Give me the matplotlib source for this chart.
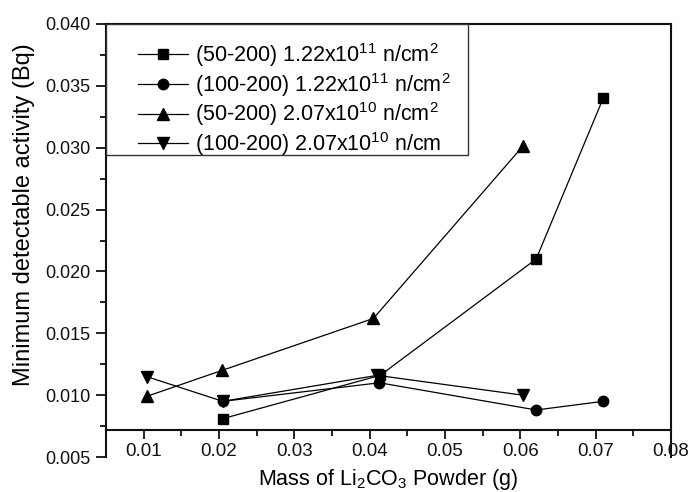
import matplotlib
matplotlib.use("Agg")
import matplotlib.pyplot as plt
from matplotlib.patches import Rectangle
from matplotlib.ticker import MultipleLocator, FormatStrFormatter

plt.rcParams['font.family'] = ['Liberation Sans', 'DejaVu Sans']
plt.rcParams['mathtext.fontset'] = 'custom'
plt.rcParams['mathtext.rm'] = 'Liberation Sans'
plt.rcParams['mathtext.it'] = 'Liberation Sans'

# Mass of Li2CO3 powder (g) and minimum detectable activity (Bq)
x_sq = [0.0205, 0.0414, 0.0621, 0.0710]
y_sq = [0.0081, 0.0116, 0.0210, 0.0340]
x_ci = [0.0205, 0.0413, 0.0621, 0.0710]
y_ci = [0.0095, 0.0110, 0.0088, 0.0095]
x_up = [0.0104, 0.0204, 0.0405, 0.0603]
y_up = [0.0099, 0.0120, 0.0162, 0.0301]
x_dn = [0.0104, 0.0205, 0.0410, 0.0603]
y_dn = [0.0115, 0.0095, 0.0116, 0.0100]

labels = [
    r'(50-200) 1.22x10$^{\mathregular{11}}$ n/cm$^{\mathregular{2}}$',
    r'(100-200) 1.22x10$^{\mathregular{11}}$ n/cm$^{\mathregular{2}}$',
    r'(50-200) 2.07x10$^{\mathregular{10}}$ n/cm$^{\mathregular{2}}$',
    r'(100-200) 2.07x10$^{\mathregular{10}}$ n/cm',
]

fig = plt.figure(figsize=(6.9, 4.92), dpi=100)
ax = fig.add_axes([106/690, 1 - 457/492, (671 - 106)/690, (457 - 24)/492])

kw = dict(color='black', lw=0.9, markeredgecolor='black', markerfacecolor='black')
ax.plot(x_sq, y_sq, marker='s', markersize=6.5, label=labels[0], **kw)
ax.plot(x_ci, y_ci, marker='o', markersize=7.5, label=labels[1], **kw)
ax.plot(x_up, y_up, marker='^', markersize=8, label=labels[2], **kw)
ax.plot(x_dn, y_dn, marker='v', markersize=8, label=labels[3], **kw)

ax.set_xlim(0.005, 0.08)
ax.set_ylim(0.005, 0.040)

# x axis crosses the y axis above its lower limit
ax.spines['bottom'].set_position(('data', 0.0072))
for s in ax.spines.values():
    s.set_linewidth(1.5)
    s.set_color('#111111')

ax.xaxis.set_major_locator(MultipleLocator(0.01))
ax.xaxis.set_minor_locator(MultipleLocator(0.005))
ax.yaxis.set_major_locator(MultipleLocator(0.005))
ax.yaxis.set_minor_locator(MultipleLocator(0.0025))
ax.xaxis.set_major_formatter(FormatStrFormatter('%.2f'))
ax.yaxis.set_major_formatter(FormatStrFormatter('%.3f'))
ax.set_xticks([0.01, 0.02, 0.03, 0.04, 0.05, 0.06, 0.07, 0.08])

ax.tick_params(axis='y', which='major', direction='out', length=7.5, width=1.3,
               labelsize=13, pad=3.5, colors='#111111')
ax.tick_params(axis='y', which='minor', direction='out', length=4, width=1.3, colors='#111111')
ax.tick_params(axis='x', which='major', direction='out', length=6.5, width=1.3,
               labelsize=13.5, pad=3, colors='#111111')
ax.tick_params(axis='x', which='minor', direction='out', length=4.5, width=1.3, colors='#111111')
ax.tick_params(top=False, right=False)

ax.set_xlabel(r'Mass of Li$_{\mathregular{2}}$CO$_{\mathregular{3}}$ Powder (g)', fontsize=15.5, labelpad=5)
ax.set_ylabel('Minimum detectable activity (Bq)', fontsize=17)
ax.yaxis.set_label_coords(-0.125, 0.56)

leg = ax.legend(loc='upper left', bbox_to_anchor=(32/565, 1 - 17/433), borderaxespad=0,
                fontsize=15.5, handlelength=2.3, handletextpad=0.35,
                labelspacing=0.08, borderpad=0, frameon=False)
leg.set_zorder(6)
frame = Rectangle((0, 1 - 131/433), 362/565, 131/433, transform=ax.transAxes,
                  facecolor='white', edgecolor='#333333', linewidth=1.0, zorder=5)
ax.add_patch(frame)

fig.savefig('out.png', dpi=100)
